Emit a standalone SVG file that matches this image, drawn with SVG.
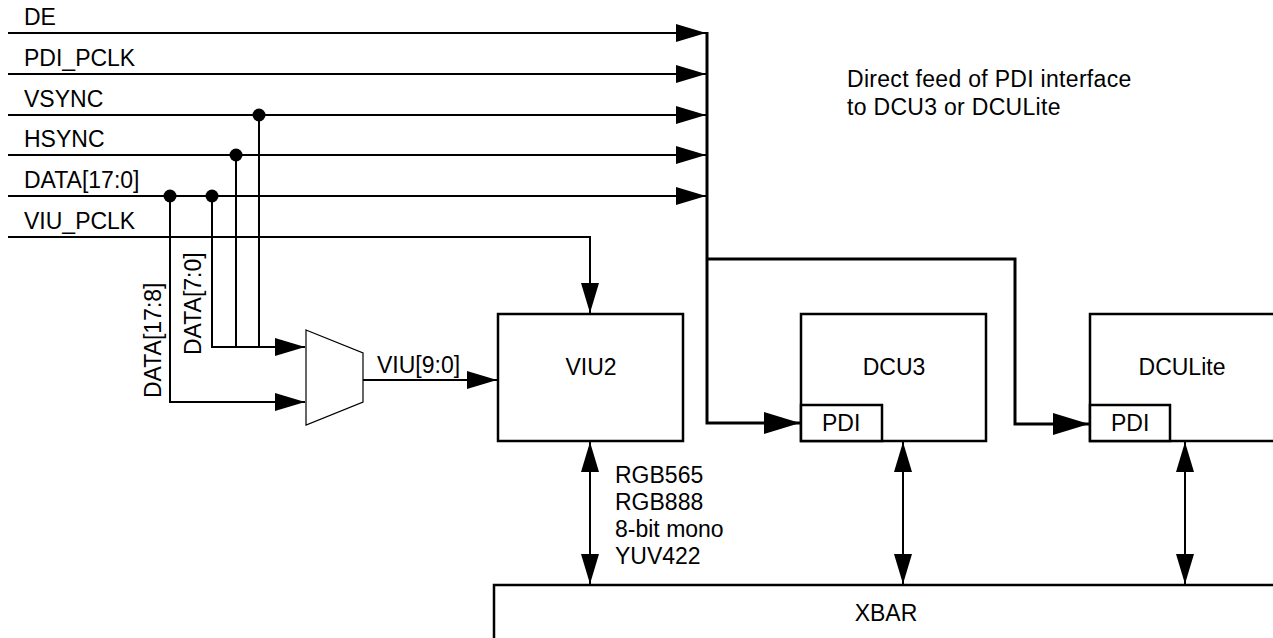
<svg xmlns="http://www.w3.org/2000/svg" width="1273" height="638" viewBox="0 0 1273 638">
  <style>
    text { font-family: "Liberation Sans", Arial, sans-serif; font-size: 23px; fill: #000; }
    .c { text-anchor: middle; }
    .box { fill: #fff; stroke: #000; stroke-width: 2.5; }
    .w { fill: none; stroke: #000; stroke-width: 2; }
    .bus { fill: none; stroke: #000; stroke-width: 3; }
    .mux { fill: #fff; stroke: #000; stroke-width: 1.2; }
  </style>
  <defs>
    <marker id="ah" markerUnits="userSpaceOnUse" markerWidth="30" markerHeight="18" refX="30" refY="9" orient="auto-start-reverse">
      <path d="M0,0 L30,9 L0,18 Z" fill="#000"/>
    </marker>
    <marker id="ahb" markerUnits="userSpaceOnUse" markerWidth="36" markerHeight="22" refX="36" refY="11" orient="auto">
      <path d="M0,0 L36,11 L0,22 Z" fill="#000"/>
    </marker>
  </defs>

  <g id="signal-labels">
    <text x="24" y="25">DE</text>
    <text x="24" y="66">PDI_PCLK</text>
    <text x="24" y="107">VSYNC</text>
    <text x="24" y="147">HSYNC</text>
    <text x="24" y="188">DATA[17:0]</text>
    <text x="24" y="229">VIU_PCLK</text>
    <text transform="translate(201,355) rotate(-90)">DATA[7:0]</text>
    <text transform="translate(161,398) rotate(-90)">DATA[17:8]</text>
    <text x="377" y="373">VIU[9:0]</text>
    <text x="847" y="87" letter-spacing="0.3">Direct feed of PDI interface</text>
    <text x="847" y="115" letter-spacing="0.3">to DCU3 or DCULite</text>
    <text x="615" y="483">RGB565</text>
    <text x="615" y="510">RGB888</text>
    <text x="615" y="537">8-bit mono</text>
    <text x="615" y="564">YUV422</text>
  </g>

  <g id="viu2">
    <rect class="box" x="498" y="314" width="185" height="127"/>
    <text class="c" x="591" y="375">VIU2</text>
  </g>

  <g id="dcu3">
    <rect class="box" x="801" y="314" width="185" height="127"/>
    <text class="c" x="894" y="375">DCU3</text>
    <rect class="box" x="801" y="405" width="81" height="36"/>
    <text x="822" y="431">PDI</text>
  </g>

  <g id="dculite">
    <rect class="box" x="1090" y="314" width="200" height="127"/>
    <text class="c" x="1182" y="375">DCULite</text>
    <rect class="box" x="1090" y="405" width="80" height="36"/>
    <text x="1111" y="431">PDI</text>
  </g>

  <g id="xbar">
    <rect class="box" x="494" y="585" width="800" height="80"/>
    <text class="c" x="886" y="621">XBAR</text>
  </g>

  <g id="mux">
    <polygon class="mux" points="306,330 363,353 363,402 306,425"/>
  </g>

  <g id="connectors">
    <path class="w" d="M8,33 H706" marker-end="url(#ah)"/>
    <path class="w" d="M8,74 H706" marker-end="url(#ah)"/>
    <path class="w" d="M8,115 H706" marker-end="url(#ah)"/>
    <path class="w" d="M8,155 H706" marker-end="url(#ah)"/>
    <path class="w" d="M8,196 H706" marker-end="url(#ah)"/>
    <path class="w" d="M8,237 H590 V313" marker-end="url(#ah)"/>
    <path class="bus" d="M707,32 V423 H800" marker-end="url(#ahb)"/>
    <path class="bus" d="M707,259 H1015 V424 H1089" marker-end="url(#ahb)"/>
    <path class="w" d="M259,115 V347"/>
    <path class="w" d="M236,155 V347"/>
    <path class="w" d="M212,196 V347 H305" marker-end="url(#ah)"/>
    <path class="w" d="M170,196 V402 H305" marker-end="url(#ah)"/>
    <path class="w" d="M363,380 H497" marker-end="url(#ah)"/>
    <path class="w" d="M590,442 V584" marker-start="url(#ah)" marker-end="url(#ah)"/>
    <path class="w" d="M903,442 V584" marker-start="url(#ah)" marker-end="url(#ah)"/>
    <path class="w" d="M1185,442 V584" marker-start="url(#ah)" marker-end="url(#ah)"/>
    <circle cx="259" cy="115" r="6.5" fill="#000"/>
    <circle cx="236" cy="155" r="6.5" fill="#000"/>
    <circle cx="212" cy="196" r="6.5" fill="#000"/>
    <circle cx="170" cy="196" r="6.5" fill="#000"/>
  </g>
</svg>
